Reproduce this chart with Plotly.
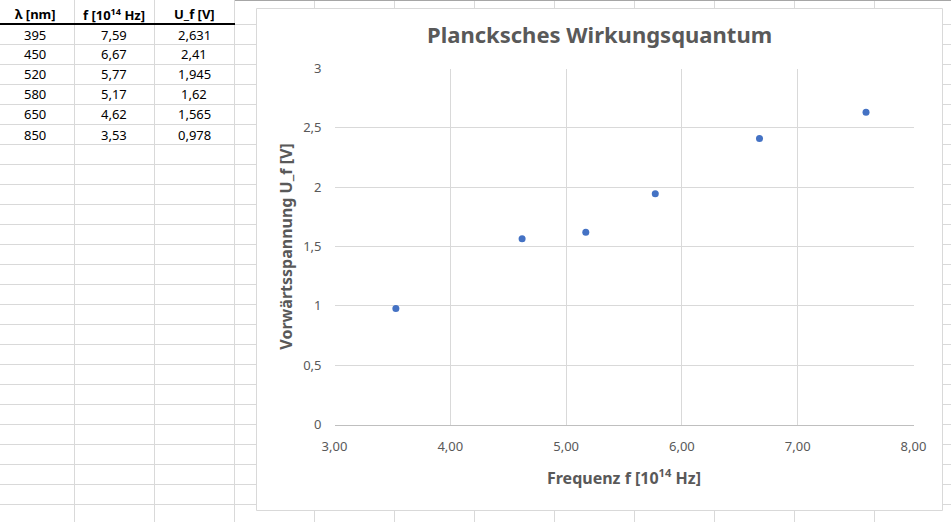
import plotly.graph_objects as go

# Messwerte (aus der Tabelle)
wavelength_nm = [395, 450, 520, 580, 650, 850]
frequency_1e14 = [7.59, 6.67, 5.77, 5.17, 4.62, 3.53]
voltage_v = [2.631, 2.41, 1.945, 1.62, 1.565, 0.978]

header_labels = ["<b>λ [nm]</b>", "<b>f [10<sup>14</sup> Hz]</b>", "<b>U_f [V]</b>"]
x_ticks = [3, 4, 5, 6, 7, 8]
y_ticks = [0, 0.5, 1, 1.5, 2, 2.5, 3]

W, H = 951, 522
GRID = "#d9d9d9"
TEXT = "#595959"
FONT = "Noto Sans"


def px(x):
    return x / W


def py(y):
    return 1 - y / H


def de(v):
    # deutsches Dezimalkomma
    return str(v).replace(".", ",")


fig = go.Figure()

fig.add_trace(go.Scatter(
    x=frequency_1e14, y=voltage_v, mode="markers",
    marker=dict(color="#4472c4", size=7),
    showlegend=False, hoverinfo="x+y",
))

shapes = []
# Tabellenraster im Hintergrund
for k in range(12):
    xc = 74.5 + 80 * k
    shapes.append(dict(type="line", xref="paper", yref="paper",
                       x0=px(xc), x1=px(xc), y0=0, y1=1,
                       line=dict(color=GRID, width=1), layer="below"))
for k in range(25):
    yr = 24.5 + 20 * k
    x_start = 235 if k == 0 else 0
    shapes.append(dict(type="line", xref="paper", yref="paper",
                       x0=px(x_start), x1=1, y0=py(yr), y1=py(yr),
                       line=dict(color=GRID, width=1), layer="below"))
# Kopfzeile: dicke Linie + graue Oberkante
shapes.append(dict(type="line", xref="paper", yref="paper",
                   x0=0, x1=px(235), y0=py(24), y1=py(24),
                   line=dict(color="black", width=2), layer="below"))
shapes.append(dict(type="line", xref="paper", yref="paper",
                   x0=px(235), x1=1, y0=py(0.5), y1=py(0.5),
                   line=dict(color="#a6a6a6", width=1), layer="below"))
# Diagrammfläche
shapes.append(dict(type="rect", xref="paper", yref="paper",
                   x0=px(256.5), x1=px(942.5), y0=py(510.5), y1=py(8.5),
                   fillcolor="white", line=dict(color=GRID, width=1), layer="below"))

annotations = []
col_centers = [35, 114, 194]


def cell(x, y, text, size=13, color="black"):
    return dict(x=px(x), y=py(y), xref="paper", yref="paper",
                xanchor="center", yanchor="middle",
                text=text, showarrow=False,
                font=dict(family=FONT, size=size, color=color))


for c, label in zip(col_centers, header_labels):
    annotations.append(cell(c, 14, label))
for i, (lam, f, u) in enumerate(zip(wavelength_nm, frequency_1e14, voltage_v)):
    for c, val in zip(col_centers, [str(lam), f"{f:.2f}".replace(".", ","), de(u)]):
        annotations.append(cell(c, 34.5 + 20 * i, val))

annotations.append(cell(599, 34, "<b>Plancksches Wirkungsquantum</b>", 22, TEXT))

fig.update_layout(
    width=W, height=H,
    margin=dict(l=0, r=0, t=0, b=0, pad=0),
    paper_bgcolor="white", plot_bgcolor="white",
    separators=",.",
    shapes=shapes, annotations=annotations,
    font=dict(family=FONT, color=TEXT, size=13),
)
fig.update_xaxes(
    domain=[px(334.5), px(913.5)], range=[3, 8],
    tickvals=x_ticks, tickformat=".2f", automargin=False,
    showgrid=True, gridcolor=GRID, zeroline=False,
    showline=True, linecolor="#bfbfbf", linewidth=1,
    ticks="", ticklabelstandoff=10,
    tickfont=dict(family=FONT, size=13, color=TEXT),
    title=dict(text="<b>Frequenz f [10<sup>14</sup> Hz]</b>", standoff=18,
               font=dict(family=FONT, size=16, color=TEXT)),
)
fig.update_yaxes(
    domain=[py(424.5), py(68.5)], range=[0, 3],
    tickvals=y_ticks, automargin=False,
    showgrid=True, gridcolor=GRID, zeroline=False, showline=False,
    ticks="", ticklabelstandoff=12,
    tickfont=dict(family=FONT, size=13, color=TEXT),
    title=dict(text="<b>Vorwärtsspannung U_f [V]</b>", standoff=6,
               font=dict(family=FONT, size=16, color=TEXT)),
)

# Browser-Standardrand entfernen, damit die Figur bei (0,0) beginnt
fig.write_html("out.html", config={"displayModeBar": False},
               post_script="document.body.style.margin='0px';")
